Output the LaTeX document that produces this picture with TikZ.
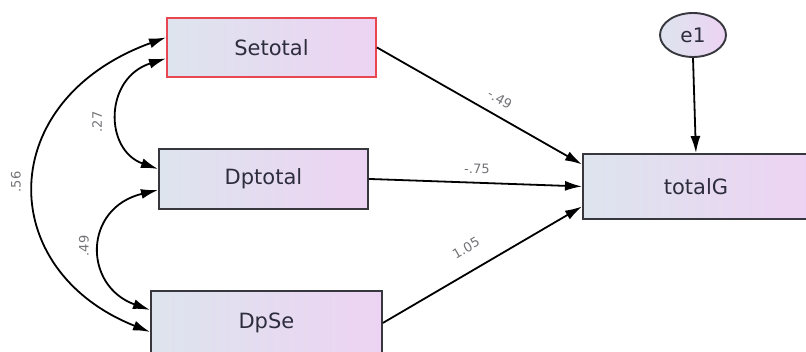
\documentclass[tikz,border=0pt]{standalone}
\usepackage{fontspec}
\setmainfont{DejaVu Sans}
\usetikzlibrary{arrows.meta,shapes.geometric}
\definecolor{fillL}{RGB}{221,228,238}
\definecolor{fillR}{RGB}{237,211,243}
\definecolor{boxline}{RGB}{55,55,62}
\definecolor{redline}{RGB}{232,70,80}
\definecolor{txt}{RGB}{45,45,62}
\definecolor{lbl}{RGB}{115,115,120}
\tikzset{
  varbox/.style={draw=boxline, line width=1.9pt, left color=fillL, right color=fillR,
    text=txt, font=\fontsize{21}{25}\selectfont, inner sep=0pt, anchor=north west},
  errnode/.style={ellipse, draw=boxline, line width=1.9pt, left color=fillL, right color=fillR,
    text=txt, font=\fontsize{20}{23}\selectfont, minimum width=66pt, minimum height=44pt, inner sep=0pt},
  path/.style={line width=1.8pt, -{Latex[length=17pt,width=10pt]}},
  cov/.style={line width=1.8pt, {Latex[length=17pt,width=10pt]}-{Latex[length=17pt,width=10pt]}},
  coef/.style={text=lbl, font=\fontsize{13}{15}\selectfont, inner sep=0pt}
}
\begin{document}
\begin{tikzpicture}[x=1pt,y=-1pt]
\clip (0,0) rectangle (806,352);
\node[varbox, draw=redline, minimum width=209pt, minimum height=59pt] (se) at (166,17) {Setotal};
\node[varbox, minimum width=209pt, minimum height=60pt] (dp) at (158,148) {Dptotal};
\node[varbox, minimum width=231pt, minimum height=64pt] (dpse) at (150,290) {DpSe};
\node[varbox, minimum width=226pt, minimum height=65pt] (tg) at (582,153) {totalG};
\node[errnode] (e1) at (693,35) {e1};
% regression paths
\draw[path] (se.east) -- ([yshift=22pt]tg.west);
\draw[path] (dp.east) -- ([yshift=0pt]tg.west);
\draw[path] (dpse.east) -- ([yshift=-20pt]tg.west);
\draw[path] (e1.south) -- (tg.north);
% covariances
\draw[cov] ([yshift=10pt]se.west) .. controls (-6,100) and (-6,270) .. ([yshift=-9pt]dpse.west);
\draw[cov] ([yshift=-11pt]se.west) .. controls (104,78) and (104,150) .. ([yshift=10pt]dp.west);
\draw[cov] ([yshift=-11pt]dp.west) .. controls (83,208) and (83,286) .. ([yshift=13pt]dpse.west);
% coefficient labels
\node[coef, rotate=90] (l56) at (16,182) {.56};
\node[coef, rotate=90] (l27) at (97,122) {.27};
\node[coef, rotate=90] (l49) at (84,246) {.49};
\node[coef, rotate=-30] (lse) at (500,99) {-.49};
\node[coef, rotate=-1] (ldp) at (477,169) {-.75};
\node[coef, rotate=30] (lds) at (466,248) {1.05};
\end{tikzpicture}
\end{document}
